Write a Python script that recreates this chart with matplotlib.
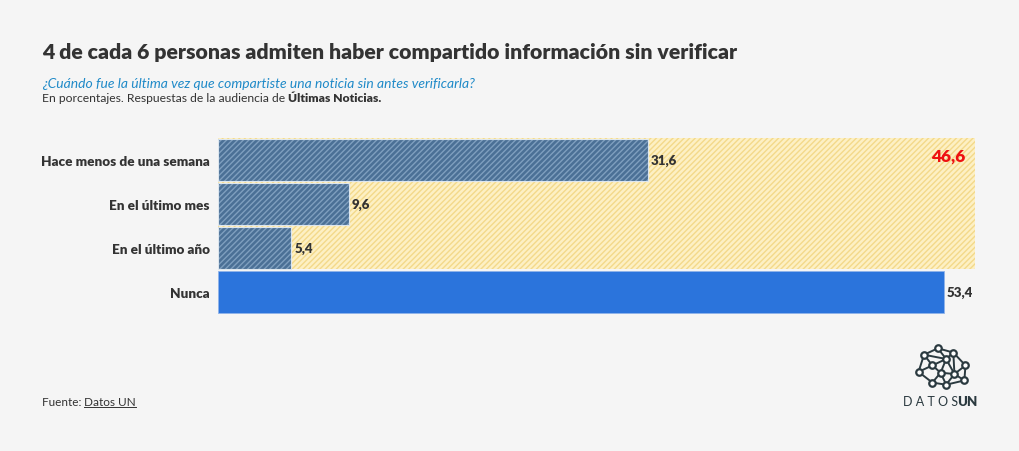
import matplotlib.pyplot as plt
import matplotlib as mpl

categories = ['Hace menos de una semana', 'En el último mes', 'En el último año', 'Nunca']
values = [31.6, 9.6, 5.4, 53.4]
total_shared = 46.6
value_labels = ['31,6', '9,6', '5,4', '53,4']
total_label = '46,6'

# logo nodes / links (decorative)
logo_nodes = [(0.40, 0.95), (0.15, 0.80), (0.68, 0.85), (0.90, 0.55), (0.05, 0.40),
              (0.30, 0.55), (0.55, 0.70), (0.70, 0.35), (0.30, 0.15), (0.55, 0.10),
              (0.88, 0.20), (0.45, 0.38)]
logo_links = [(0, 1), (0, 2), (0, 6), (1, 4), (1, 5), (2, 3), (2, 6), (2, 7), (3, 7), (3, 10),
              (4, 5), (4, 8), (5, 11), (5, 6), (6, 11), (11, 8), (11, 9), (11, 7), (7, 9), (7, 10),
              (9, 10), (8, 9), (1, 6), (6, 7)]

plt.rcParams['font.family'] = ['Lato', 'DejaVu Sans']
plt.rcParams['hatch.linewidth'] = 1.0
bg = '#f5f5f5'
dark = '#333333'
heavy = 'heavy'

fig = plt.figure(figsize=(10.2, 4.52), dpi=100, facecolor=bg)
ax = fig.add_axes([218/1020, 1 - 315/452, (975 - 218)/1020, (315 - 139)/452])
ax.set_facecolor(bg)

ypos = list(range(len(categories)))
xmax = values[3] * (975 - 218) / (944 - 218)

# yellow hatched area behind the three "yes" rows
ax.axhspan(-0.5, 2.48, xmin=0, xmax=1, facecolor='#fdf0c4', edgecolor='#f3d98a',
           hatch='//////', linewidth=0, zorder=0)

for i, v in enumerate(values):
    if i < 3:
        ax.barh(ypos[i], v, height=0.955, color='#4b7096', edgecolor='#7f9fbf',
                hatch='//////', linewidth=0, zorder=2)
        ax.barh(ypos[i], v, height=0.955, facecolor='none', edgecolor='#dde6ee',
                linewidth=0.8, zorder=3)
    else:
        ax.barh(ypos[i], v, height=0.955, color='#2b74dc', edgecolor='#8fb3ea',
                linewidth=0.6, zorder=2)
    ax.text(v + 0.2, ypos[i], value_labels[i], va='center', ha='left',
            fontsize=9.5, fontweight=heavy, color=dark, zorder=4)

ax.text(xmax - 0.7, 0 - 0.1, total_label, va='center', ha='right', fontsize=12.5,
        fontweight=heavy, color='#ee1111', zorder=4)

ax.set_xlim(0, xmax)
ax.set_ylim(3.5, -0.5)
ax.set_yticks(ypos)
ax.set_yticklabels(categories, fontsize=9.7, fontweight=heavy, color=dark)
ax.tick_params(axis='y', length=0, pad=6)
ax.set_xticks([])
for s in ax.spines.values():
    s.set_visible(False)

# titles
fig.text(42/1020, 1 - 52/452, '4 de cada 6 personas admiten haber compartido información sin verificar',
         fontsize=15.3, fontweight=heavy, color=dark, va='center', ha='left')
fig.text(42/1020, 1 - 84/452, '¿Cuándo fue la última vez que compartiste una noticia sin antes verificarla?',
         fontsize=10, style='italic', color='#1f8ac8', va='center', ha='left')
t1 = fig.text(42/1020, 1 - 99/452, 'En porcentajes. Respuestas de la audiencia de ',
              fontsize=8.7, color=dark, va='center', ha='left')
fig.canvas.draw()
r = fig.canvas.get_renderer()
bb = t1.get_window_extent(r)
fig.text(bb.x1 / 1020, 1 - 99/452, 'Últimas Noticias.', fontsize=8.7, fontweight=heavy,
         color=dark, va='center', ha='left')

# footer
t2 = fig.text(42/1020, 1 - 403/452, 'Fuente: ', fontsize=8.5, color=dark, va='center', ha='left')
fig.canvas.draw()
bb2 = t2.get_window_extent(r)
t3 = fig.text(bb2.x1 / 1020, 1 - 403/452, 'Datos UN', fontsize=8.5, color=dark, va='center', ha='left')
fig.canvas.draw()
bb3 = t3.get_window_extent(r)
fig.add_artist(plt.Line2D([bb3.x0 / 1020, bb3.x1 / 1020], [(bb3.y0 + 1) / 452] * 2,
                          color=dark, linewidth=0.7))

# logo
lax = fig.add_axes([913/1020, 1 - 390/452, 58/1020, 45/452])
lax.set_xlim(-0.05, 1.0)
lax.set_ylim(0.0, 1.05)
lax.axis('off')
for a, b in logo_links:
    lax.plot([logo_nodes[a][0], logo_nodes[b][0]], [logo_nodes[a][1], logo_nodes[b][1]],
             color='#2b3a40', linewidth=1.4)
lax.scatter([p[0] for p in logo_nodes], [p[1] for p in logo_nodes], s=22,
            facecolor='white', edgecolor='#2b3a40', linewidth=1.6, zorder=3)
fig.text(931/1020, 1 - 402/452, 'D A T O S', fontsize=9, color='#2b3a40', va='center', ha='center')
fig.text(967/1020, 1 - 402/452, 'UN', fontsize=9.5, fontweight=heavy, color='#2b3a40',
         va='center', ha='center')

fig.savefig('out.png', dpi=100, facecolor=bg)
